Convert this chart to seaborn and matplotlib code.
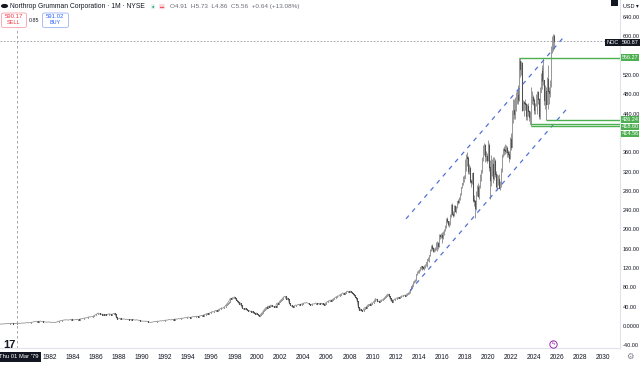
import numpy as np
import pandas as pd
import matplotlib
matplotlib.use("Agg")
import matplotlib.pyplot as plt
import matplotlib.patches as mpatches
import matplotlib.transforms as mtransforms
import seaborn as sns

# monthly closes, Jan 1977 .. Dec 2012 (one row per year)
early_close = [
    [3.6, 3.7, 3.6, 3.8, 3.9, 3.8, 4.0, 4.1, 3.9, 4.0, 4.2, 4.3],
    [4.4, 4.3, 4.6, 4.8, 5.0, 4.9, 5.2, 5.5, 5.3, 4.8, 4.9, 5.0],
    [4.8, 4.91, 5.56, 5.4, 5.6, 5.9, 6.1, 6.4, 6.2, 5.9, 6.3, 6.6],
    [6.8, 7.2, 6.5, 6.9, 7.4, 7.8, 8.3, 8.6, 8.9, 9.2, 9.8, 9.5],
    [9.2, 9.6, 10.1, 9.8, 9.4, 9.0, 8.7, 8.2, 7.8, 8.1, 8.4, 8.3],
    [8.0, 7.6, 7.4, 7.9, 7.7, 7.3, 7.6, 8.4, 8.9, 9.8, 10.4, 10.8],
    [11.2, 11.6, 12.1, 12.8, 12.4, 13.0, 12.6, 12.2, 12.7, 13.1, 13.6, 13.3],
    [12.9, 12.5, 13.0, 13.4, 13.0, 13.6, 13.2, 14.2, 14.6, 14.9, 15.3, 15.8],
    [16.4, 17.0, 16.6, 17.5, 18.4, 19.2, 18.7, 19.5, 19.0, 20.2, 21.8, 22.6],
    [24.0, 25.3, 26.8, 25.9, 24.6, 25.2, 23.8, 24.5, 23.2, 24.0, 23.1, 22.5],
    [23.6, 24.8, 25.5, 24.2, 23.6, 24.4, 25.6, 26.2, 25.0, 18.0, 15.4, 14.6],
    [15.2, 15.8, 15.0, 14.6, 14.1, 14.8, 14.3, 13.6, 14.0, 13.5, 13.1, 13.4],
    [13.8, 13.2, 12.6, 13.1, 12.7, 12.2, 12.9, 12.5, 12.0, 11.4, 11.0, 10.6],
    [10.2, 9.8, 10.3, 9.7, 10.1, 9.5, 9.0, 8.3, 7.8, 7.4, 7.9, 8.2],
    [8.6, 9.2, 8.8, 9.5, 10.0, 9.6, 10.3, 10.8, 10.4, 11.0, 10.6, 11.3],
    [11.8, 12.4, 12.0, 12.8, 13.4, 13.0, 12.6, 13.2, 13.8, 13.4, 14.1, 14.6],
    [14.2, 14.8, 15.3, 14.9, 15.6, 16.2, 15.8, 16.5, 17.2, 16.8, 17.5, 18.0],
    [18.6, 18.1, 17.5, 18.2, 18.8, 19.4, 18.9, 19.6, 20.3, 19.8, 19.2, 20.0],
    [20.6, 21.4, 22.0, 21.5, 22.6, 23.4, 24.5, 25.2, 26.0, 25.4, 26.5, 27.4],
    [28.6, 29.8, 28.9, 30.2, 31.5, 32.6, 31.8, 33.0, 34.2, 35.6, 36.4, 37.8],
    [36.6, 38.4, 40.2, 42.6, 44.8, 47.6, 50.2, 53.8, 57.6, 55.2, 58.8, 57.5],
    [60.5, 57.0, 54.6, 52.0, 49.4, 46.2, 48.5, 43.6, 38.2, 36.5, 34.4, 36.6],
    [35.0, 33.2, 31.6, 30.4, 31.8, 29.6, 30.8, 28.4, 26.6, 27.8, 25.6, 27.0],
    [25.2, 23.8, 21.4, 22.6, 25.0, 27.8, 30.2, 33.4, 36.0, 38.6, 37.4, 41.5],
    [40.2, 41.6, 43.4, 42.0, 40.8, 39.4, 40.6, 39.8, 46.5, 47.8, 46.6, 50.4],
    [52.6, 54.8, 56.4, 59.2, 60.8, 61.6, 55.8, 58.4, 56.0, 48.6, 44.2, 42.5],
    [40.5, 38.6, 40.8, 42.0, 43.4, 42.8, 44.0, 45.2, 42.6, 43.8, 45.6, 46.4],
    [47.2, 48.0, 47.4, 48.6, 47.6, 46.8, 45.0, 44.2, 43.6, 44.8, 46.2, 45.4],
    [46.6, 47.8, 46.0, 45.2, 47.0, 46.2, 45.4, 46.8, 44.6, 43.8, 45.6, 47.2],
    [49.0, 50.4, 52.2, 51.6, 53.8, 52.6, 54.4, 55.8, 57.2, 58.6, 60.4, 61.2],
    [62.6, 61.8, 64.8, 65.6, 67.2, 68.6, 66.4, 67.8, 69.6, 71.2, 72.4, 70.8],
    [71.6, 72.4, 70.2, 68.4, 66.2, 63.4, 60.8, 57.6, 52.0, 40.0, 34.0, 36.0],
    [33.2, 30.4, 32.0, 36.2, 38.4, 37.6, 41.0, 43.2, 44.6, 42.8, 46.0, 48.2],
    [47.0, 49.6, 52.4, 56.8, 55.2, 52.0, 51.4, 49.6, 52.8, 54.2, 53.0, 55.6],
    [57.0, 59.8, 61.6, 64.8, 66.4, 63.2, 58.6, 53.4, 50.6, 54.4, 53.2, 55.8],
    [56.4, 57.8, 58.6, 59.4, 57.2, 60.0, 62.2, 61.6, 63.4, 64.0, 63.0, 64.6],
]

# monthly close / high / low, Jan 2013 .. Oct 2025
recent_close = [
    [67.0, 68.5, 70.2, 75.7, 82.4, 82.8, 92.0, 92.3, 95.3, 107.5, 112.5, 114.6],
    [115.5, 121.5, 123.4, 121.5, 121.7, 119.6, 123.3, 126.9, 131.8, 138.0, 138.4, 147.4],
    [157, 166, 161, 155, 159, 159, 173, 171, 166, 188, 186, 189],
    [185, 192, 198, 206, 213, 222, 217, 212, 214, 229, 250, 233],
    [229, 248, 238, 246, 259, 257, 266, 273, 288, 296, 307, 307],
    [341, 350, 349, 322, 327, 308, 300, 298, 317, 262, 260, 245],
    [276, 289, 269, 290, 303, 323, 346, 368, 375, 352, 353, 344],
    [375, 330, 302, 331, 335, 307, 325, 342, 315, 290, 302, 305],
    [287, 292, 324, 354, 366, 364, 363, 368, 360, 357, 349, 387],
    [370, 442, 447, 440, 468, 479, 479, 478, 470, 549, 533, 545],
    [448, 464, 462, 461, 436, 456, 445, 433, 442, 471, 475, 468],
    [447, 461, 478, 485, 470, 436, 485, 522, 528, 509, 510, 469],
    [487, 461, 512, 487, 483, 500, 577, 590, 600, 590.87],
]
recent_high = [
    [68, 70, 72, 77, 83, 86, 93, 96, 98, 108, 114, 116],
    [119, 123, 125, 124, 124, 124, 126, 129, 133, 139, 142, 148],
    [160, 168, 170, 164, 162, 163, 175, 177, 174, 190, 191, 192],
    [194, 197, 201, 209, 216, 224, 225, 218, 217, 232, 252, 254],
    [238, 251, 251, 249, 260, 263, 267, 276, 289, 297, 310, 313],
    [346, 357, 360, 352, 335, 332, 316, 305, 318, 320, 271, 262],
    [280, 293, 296, 292, 314, 324, 350, 375, 379, 377, 362, 359],
    [385, 379, 343, 354, 346, 350, 330, 350, 347, 322, 315, 313],
    [314, 300, 327, 357, 369, 372, 377, 375, 372, 364, 362, 391],
    [400, 448, 470, 470, 475, 484, 490, 490, 500, 556.27, 556, 550],
    [548, 468, 467, 470, 462, 461, 463, 448, 445, 496, 486, 478],
    [472, 462, 481, 488, 487, 472, 495, 525, 535, 540, 555, 508],
    [500, 495, 515, 540, 495, 510, 580, 600, 606, 605],
]
recent_low = [
    [64, 65.6, 67, 69, 75, 78, 82, 89, 91, 94, 106, 110],
    [110, 114, 118, 117, 119, 118, 117, 121, 125, 122, 135, 133],
    [145, 155, 158, 153, 153, 156, 157, 155, 160, 164, 181, 182],
    [173, 180, 188, 196, 203, 208, 214, 208, 205, 210, 225, 229],
    [226, 228, 236, 234, 244, 252, 254, 262, 272, 285, 293, 298],
    [306, 322, 331, 314, 314, 304, 296, 289, 294, 256, 248, 223],
    [241, 270, 268, 264, 286, 300, 318, 342, 355, 340, 342, 338],
    [341, 322, 263, 290, 310, 297, 303, 322, 309, 286, 282, 292],
    [285, 281, 288, 320, 351, 355, 356, 358, 350, 350, 340, 346],
    [365, 370, 420, 430, 430, 445, 460, 465, 460, 467, 517, 520],
    [445, 447, 436, 448, 426, 426, 435, 424, 418.60, 414.56, 460, 458],
    [440, 440, 455, 440, 460, 430, 430, 484, 505, 492, 500, 458],
    [450, 426.24, 460, 450, 460, 475, 495, 565, 570, 575],
]

# drawn levels (price, first month as decimal year)
level_price = [556.27, 426.24, 418.60, 414.56]
level_start = [2022.75, 2025.083, 2023.667, 2023.75]

# parallel channel (two dashed rays)
channel_x = [[2012.9, 2026.53], [2013.25, 2026.79]]
channel_y = [[222, 597], [73, 448]]

last_price = 590.87
year_ticks = list(range(1982, 2031, 2))
# 400 and 560 sit behind the level tags on the scale
price_ticks = [v for v in range(-40, 680, 40) if v not in (400, 560)]

# ---- assemble candles
closes = np.concatenate([np.ravel(early_close), np.concatenate(recent_close)])
n_early = len(np.ravel(early_close))
xs = 1977 + np.arange(len(closes)) / 12.0
opens = np.r_[closes[0], closes[:-1]]
rec_x = xs[n_early:]
rec_hi = np.concatenate(recent_high)
rec_lo = np.concatenate(recent_low)

sns.set_theme(style="white")
plt.rcParams['font.family'] = ['Liberation Sans', 'DejaVu Sans']

W, H = 640, 366
fig = plt.figure(figsize=(6.4, 3.66), dpi=100)
fig.patch.set_facecolor('white')
ax = fig.add_axes([0, 18 / H, 620 / W, 348 / H])
ax.set_facecolor('white')

x0, x1 = 1977.66, 2031.48
y0, y1 = -45.6, 675.6
ax.set_xlim(x0, x1)
ax.set_ylim(y0, y1)

# thin close trace under the candles so the flat early years read as a line
early = pd.DataFrame({'x': xs[:n_early + 1], 'close': closes[:n_early + 1]})
sns.lineplot(data=early, x='x', y='close', ax=ax, color='#8c8c8c', lw=0.55, zorder=2)

# wicks for the recent part
ax.vlines(rec_x, rec_lo, rec_hi, color='#6e6e6e', lw=0.5, zorder=3)
up = closes >= opens
body_lo = np.minimum(opens, closes)
body_hi = np.maximum(opens, closes)
lc_up = ax.vlines(xs[up], body_lo[up], body_hi[up], color='#9a9a9a', lw=0.75, zorder=4)
lc_dn = ax.vlines(xs[~up], body_lo[~up], body_hi[~up], color='#505050', lw=0.75, zorder=4)
for lc in (lc_up, lc_dn):
    lc.set_capstyle('projecting')

# channel
ch = pd.DataFrame({
    'x': channel_x[0] + channel_x[1],
    'y': channel_y[0] + channel_y[1],
    'line': ['upper', 'upper', 'lower', 'lower'],
})
for name, g in ch.groupby('line'):
    sns.lineplot(data=g, x='x', y='y', ax=ax, color='#5470d6', lw=0.9,
                 linestyle=(0, (3.5, 4)), zorder=5, legend=False)
ax.set_xlabel('')
ax.set_ylabel('')

# horizontal levels
for p, s in zip(level_price, level_start):
    ax.hlines(p, s, x1, color='#4caf50', lw=1.0, zorder=6)

# price line + crosshair
ax.axhline(last_price, color='#9598a1', lw=0.6, ls=(0, (2, 2)), zorder=2)
ax.axvline(1979 + 2 / 12, ymax=0.92, color='#9598a1', lw=0.6, ls=(0, (3, 3)), zorder=2)

# axes
ax.yaxis.tick_right()
ax.set_yticks(price_ticks)
ax.set_yticklabels(['0.0000' if v == 0 else f'{v:.2f}' for v in price_ticks])
ax.set_xticks(year_ticks)
ax.set_xticklabels([str(y) for y in year_ticks])
ax.tick_params(axis='y', length=0, pad=2, labelsize=4.0, labelcolor='#131722')
ax.tick_params(axis='x', length=0, pad=4, labelsize=4.8, labelcolor='#131722')
for side in ('top', 'left'):
    ax.spines[side].set_visible(False)
for side in ('right', 'bottom'):
    ax.spines[side].set_color('#e0e3eb')
    ax.spines[side].set_linewidth(0.8)

# right-scale labels
yt = mtransforms.blended_transform_factory(ax.transAxes, ax.transData)
label_pos = [556.27, 428.0, 413.0, 398.0]
for p, yp in zip(level_price, label_pos):
    ax.text(1.0025, yp, f'{p:.2f}', transform=yt, fontsize=4.0, color='white', va='center',
            ha='left', clip_on=False, zorder=10,
            bbox=dict(boxstyle='square,pad=0.12', fc='#4caf50', ec='none'))
ax.text(1.0025, last_price - 4, f'{last_price:.2f}', transform=yt, fontsize=4.0, color='white',
        va='center', ha='left', clip_on=False, zorder=10,
        bbox=dict(boxstyle='square,pad=0.2', fc='#131722', ec='none'))
ax.text(0.9975, last_price - 4, 'NOC', transform=yt, fontsize=4.0, color='white', va='center',
        ha='right', clip_on=False, zorder=10,
        bbox=dict(boxstyle='square,pad=0.2', fc='#131722', ec='none'))


def px(x, y):
    return x / W, 1 - y / H


# header
fig.patches.append(mpatches.Circle(px(4.5, 6), 3.6 / W, transform=fig.transFigure,
                                   fc='#131722', ec='none'))
fig.text(*px(10.5, 6.5), 'Northrop Grumman Corporation · 1M · NYSE', fontsize=4.9,
         color='#131722', va='center', ha='left')
fig.text(*px(153, 6.5), '●', fontsize=3, color='#089981', va='center', ha='center',
         bbox=dict(boxstyle='round,pad=0.15', fc='#dff3ec', ec='none'))
fig.text(*px(162, 6.5), '▬', fontsize=3, color='#f7525f', va='center', ha='center',
         bbox=dict(boxstyle='round,pad=0.15', fc='#fbd6da', ec='none'))
fig.text(*px(169.5, 6.5), 'O4.91  H5.73  L4.86  C5.56  +0.64 (+13.08%)', fontsize=4.6,
         color='#6a6d78', va='center', ha='left')

fig.text(*px(14, 16.5), '590.17', fontsize=4.3, color='#f23645', va='center', ha='center')
fig.text(*px(14, 23), 'SELL', fontsize=4, color='#f23645', va='center', ha='center')
fig.patches.append(mpatches.FancyBboxPatch(px(1.5, 27.5), 25 / W, 14.5 / H,
                                           boxstyle='round,pad=0,rounding_size=0.004',
                                           transform=fig.transFigure, fc='white',
                                           ec='#f7a1a8', lw=0.6, zorder=0))
fig.text(*px(34, 20), '0.85', fontsize=3.8, color='#131722', va='center', ha='center')
fig.text(*px(55.5, 16.5), '591.02', fontsize=4.3, color='#2962ff', va='center', ha='center')
fig.text(*px(55.5, 23), 'BUY', fontsize=4, color='#2962ff', va='center', ha='center')
fig.patches.append(mpatches.FancyBboxPatch(px(42.5, 27.5), 26 / W, 14.5 / H,
                                           boxstyle='round,pad=0,rounding_size=0.004',
                                           transform=fig.transFigure, fc='white',
                                           ec='#9db4f5', lw=0.6, zorder=0))

# top right
fig.patches.append(mpatches.Rectangle(px(610.5, 6), 7 / W, 6 / H, transform=fig.transFigure,
                                      fc='#131722', ec='none'))
fig.text(*px(623, 6.5), 'USD ▾', fontsize=4, color='#131722', va='center', ha='left')

# bottom
fig.text(*px(3, 345), '17', fontsize=8, fontweight='bold', color='#131722',
         va='center', ha='left')
ax.scatter([2025.67], [-37], s=28, marker='o', facecolor='white', edgecolor='#9c27b0',
           lw=0.7, zorder=8, clip_on=False)
ax.text(2025.67, -37, 'ϟ', fontsize=4.5, color='#9c27b0', ha='center', va='center', zorder=9)
fig.text(*px(18.5, 357), "Thu 01 Mar '79", fontsize=4.2, color='white', va='center',
         ha='center', bbox=dict(boxstyle='square,pad=0.45', fc='#131722', ec='none'))
fig.text(*px(630, 357), '⚙', fontsize=6, color='#787b86', va='center', ha='center')

fig.savefig('out.png', dpi=100, facecolor='white')
